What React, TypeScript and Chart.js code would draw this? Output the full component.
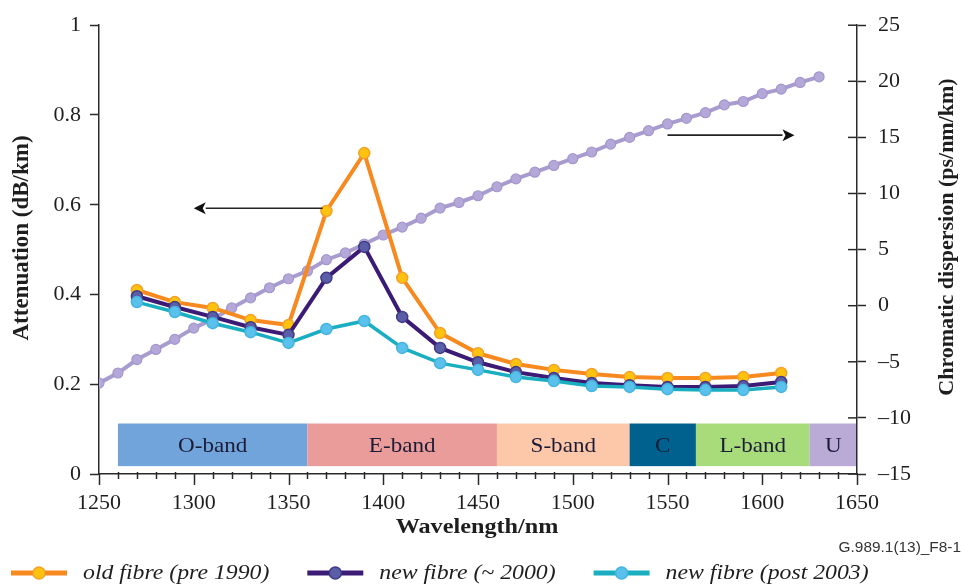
import React, { useEffect, useRef } from 'react';
import { Chart, registerables } from 'chart.js';

Chart.register(...registerables);

// Attenuation samples (dB/km), every 20 nm
const attenuationWavelengths = [1270, 1290, 1310, 1330, 1350, 1370, 1390, 1410, 1430, 1450, 1470, 1490, 1510, 1530, 1550, 1570, 1590, 1610];
const oldFibre = [0.41, 0.383, 0.37, 0.343, 0.332, 0.586, 0.715, 0.437, 0.314, 0.269, 0.245, 0.232, 0.223, 0.216, 0.214, 0.214, 0.216, 0.225];
const newFibre2000 = [0.396, 0.372, 0.35, 0.327, 0.31, 0.437, 0.506, 0.35, 0.281, 0.249, 0.227, 0.214, 0.203, 0.198, 0.194, 0.194, 0.196, 0.205];
const newFibre2003 = [0.383, 0.361, 0.336, 0.316, 0.292, 0.323, 0.341, 0.281, 0.247, 0.232, 0.216, 0.207, 0.196, 0.194, 0.189, 0.187, 0.187, 0.194];

// Chromatic dispersion samples (ps/nm/km), every 10 nm
const dispersionWavelengths = [1250, 1260, 1270, 1280, 1290, 1300, 1310, 1320, 1330, 1340, 1350, 1360, 1370, 1380, 1390, 1400, 1410, 1420, 1430, 1440, 1450, 1460, 1470, 1480, 1490, 1500, 1510, 1520, 1530, 1540, 1550, 1560, 1570, 1580, 1590, 1600, 1610, 1620, 1630];
const dispersion = [-6.9, -6.0, -4.8, -3.9, -3.0, -2.0, -1.2, -0.2, 0.7, 1.6, 2.4, 3.1, 4.1, 4.7, 5.5, 6.3, 7.0, 7.8, 8.7, 9.2, 9.8, 10.6, 11.3, 11.9, 12.5, 13.1, 13.7, 14.4, 15.0, 15.6, 16.2, 16.7, 17.2, 17.9, 18.2, 18.9, 19.3, 19.9, 20.4];

// Transmission bands (nm)
const bandNames = ['O-band', 'E-band', 'S-band', 'C', 'L-band', 'U'];
const bandStarts = [1260, 1360, 1460, 1530, 1565, 1625];
const bandEnds = [1360, 1460, 1530, 1565, 1625, 1675];
const bandColors = ['#70A4DA', '#EA9C9B', '#FDC8AA', '#00618F', '#A8DC7B', '#B9ABD6'];

const seriesNames = ['old fibre (pre 1990)', 'new fibre (~ 2000)', 'new fibre (post 2003)'];

const SERIF = "'Liberation Serif', 'Times New Roman', serif";
const AXIS = '#2a2a2a';

function hText(ctx: CanvasRenderingContext2D, text: string, x: number, y: number, font: string, align: string, color: string, sx = 1.08) {
  ctx.save();
  ctx.font = font;
  ctx.fillStyle = color;
  ctx.textBaseline = 'middle';
  ctx.textAlign = 'left';
  const w = ctx.measureText(text).width * sx;
  const left = align === 'center' ? x - w / 2 : align === 'right' ? x - w : x;
  ctx.translate(left, y);
  ctx.scale(sx, 1);
  ctx.fillText(text, 0, 0);
  ctx.restore();
  return w;
}

function vText(ctx: CanvasRenderingContext2D, text: string, x: number, y: number, font: string, color: string) {
  ctx.save();
  ctx.font = font;
  ctx.fillStyle = color;
  ctx.textBaseline = 'middle';
  ctx.textAlign = 'center';
  ctx.translate(x, y);
  ctx.rotate(-Math.PI / 2);
  ctx.fillText(text, 0, 0);
  ctx.restore();
}

function arrow(ctx: CanvasRenderingContext2D, xTail: number, xTip: number, y: number) {
  const dir = Math.sign(xTip - xTail);
  const head = 12;
  ctx.save();
  ctx.strokeStyle = '#222';
  ctx.fillStyle = '#111';
  ctx.lineWidth = 1.6;
  ctx.beginPath();
  ctx.moveTo(xTail, y);
  ctx.lineTo(xTip - dir * head, y);
  ctx.stroke();
  ctx.beginPath();
  ctx.moveTo(xTip, y);
  ctx.lineTo(xTip - dir * head, y - 6);
  ctx.lineTo(xTip - dir * (head - 3), y);
  ctx.lineTo(xTip - dir * head, y + 6);
  ctx.closePath();
  ctx.fill();
  ctx.restore();
}

const decor = {
  id: 'figureDecor',
  beforeDatasetsDraw(chart: any) {
    const { ctx, chartArea, scales } = chart;
    const x = scales.x;
    const y1 = scales.y1;
    const top = y1.getPixelForValue(-10.5);
    const bottom = y1.getPixelForValue(-14.3);
    ctx.save();
    ctx.beginPath();
    ctx.rect(chartArea.left, chartArea.top, chartArea.right - chartArea.left - 1, chartArea.bottom - chartArea.top);
    ctx.clip();
    bandNames.forEach((name, i) => {
      const l = x.getPixelForValue(bandStarts[i]);
      const r = x.getPixelForValue(bandEnds[i]);
      ctx.fillStyle = bandColors[i];
      ctx.fillRect(l, top, r - l, bottom - top);
    });
    bandNames.forEach((name, i) => {
      const l = x.getPixelForValue(bandStarts[i]);
      const r = Math.min(x.getPixelForValue(bandEnds[i]), chartArea.right);
      hText(ctx, name, (l + r) / 2, (top + bottom) / 2 + 1, `22px ${SERIF}`, 'center', '#1c1c36', 1.05);
    });
    ctx.restore();
  },
  afterDatasetsDraw(chart: any) {
    const { ctx, scales } = chart;
    const x = scales.x;
    // attenuation axis pointer (left) and dispersion axis pointer (right)
    const yl = scales.y.getPixelForValue(0.592);
    arrow(ctx, x.getPixelForValue(1368), x.getPixelForValue(1300), yl);
    const yr = scales.y1.getPixelForValue(15.2);
    arrow(ctx, x.getPixelForValue(1550), x.getPixelForValue(1617), yr);
  },
  afterDraw(chart: any) {
    const { ctx, chartArea, scales } = chart;
    const x = scales.x;
    const y1 = scales.y1;
    ctx.save();
    ctx.strokeStyle = AXIS;
    ctx.lineWidth = 1.5;
    // wavelength ticks: long every 50 nm, short every 10 nm
    x.ticks.forEach((t: any) => {
      const px = Math.round(x.getPixelForValue(t.value)) + 0.5;
      const major = t.value % 50 === 0;
      ctx.beginPath();
      ctx.moveTo(px, chartArea.bottom - (major ? 0 : 2));
      ctx.lineTo(px, chartArea.bottom + (major ? 11 : 5));
      ctx.stroke();
    });
    // inner half of the dispersion ticks
    y1.ticks.forEach((t: any) => {
      const py = y1.getPixelForValue(t.value);
      ctx.beginPath();
      ctx.moveTo(chartArea.right - 9, py);
      ctx.lineTo(chartArea.right, py);
      ctx.stroke();
    });
    ctx.restore();

    vText(ctx, 'Attenuation (dB/km)', 22, 238, `bold 23px ${SERIF}`, '#1e1e1e');
    vText(ctx, 'Chromatic dispersion (ps/nm/km)', 947, 237, `bold 22px ${SERIF}`, '#1e1e1e');
    hText(ctx, 'Wavelength/nm', 477, 527, `bold 22px ${SERIF}`, 'center', '#1e1e1e', 1.1);
    hText(ctx, 'G.989.1(13)_F8-1', 961, 548, "14px 'Liberation Sans', Arial, sans-serif", 'right', '#333', 1.1);

    // legend
    const ly = 573;
    let lx = 11;
    for (let i = 0; i < 3; i++) {
      const ds = chart.data.datasets[i];
      ctx.save();
      ctx.strokeStyle = ds.borderColor;
      ctx.lineWidth = 5;
      ctx.beginPath();
      ctx.moveTo(lx, ly);
      ctx.lineTo(lx + 56, ly);
      ctx.stroke();
      ctx.beginPath();
      ctx.arc(lx + 28, ly, 6, 0, Math.PI * 2);
      ctx.fillStyle = ds.pointBackgroundColor;
      ctx.fill();
      ctx.lineWidth = 1.5;
      ctx.strokeStyle = ds.pointBorderColor;
      ctx.stroke();
      ctx.restore();
      const w = hText(ctx, ds.label, lx + 72, ly, `italic 22px ${SERIF}`, 'left', '#1e1e1e', 1.08);
      lx = lx + 72 + w + 38;
    }
  },
};

export default function App() {
  const canvasRef = useRef<HTMLCanvasElement | null>(null);

  useEffect(() => {
    const canvas = canvasRef.current;
    if (!canvas) return;
    const toXY = (xs: number[], ys: number[]) => xs.map((v, i) => ({ x: v, y: ys[i] }));
    const chart = new Chart(canvas, {
      type: 'line',
      data: {
        datasets: [
          {
            label: seriesNames[0],
            data: toXY(attenuationWavelengths, oldFibre),
            yAxisID: 'y',
            borderColor: '#F7891F',
            borderWidth: 4,
            pointBackgroundColor: '#FFC20F',
            pointBorderColor: '#F5A12A',
            pointBorderWidth: 1.5,
            pointRadius: 5.5,
            order: 3,
          },
          {
            label: seriesNames[1],
            data: toXY(attenuationWavelengths, newFibre2000),
            yAxisID: 'y',
            borderColor: '#3B1B76',
            borderWidth: 4,
            pointBackgroundColor: '#5A5EA8',
            pointBorderColor: '#403A86',
            pointBorderWidth: 1.5,
            pointRadius: 5.5,
            order: 2,
          },
          {
            label: seriesNames[2],
            data: toXY(attenuationWavelengths, newFibre2003),
            yAxisID: 'y',
            borderColor: '#19AFC0',
            borderWidth: 3.5,
            pointBackgroundColor: '#5AC0EC',
            pointBorderColor: '#45B5DF',
            pointBorderWidth: 1.5,
            pointRadius: 5.5,
            order: 1,
          },
          {
            label: 'Chromatic dispersion',
            data: toXY(dispersionWavelengths, dispersion),
            yAxisID: 'y1',
            borderColor: '#A89CCF',
            borderWidth: 4,
            pointBackgroundColor: '#B4A8D9',
            pointBorderColor: '#A496CC',
            pointBorderWidth: 1.2,
            pointRadius: 5,
            order: 4,
          },
        ],
      },
      options: {
        responsive: false,
        animation: false,
        events: [],
        layout: { padding: { top: 25, left: 0, right: 0, bottom: 0 } },
        plugins: { legend: { display: false }, tooltip: { enabled: false }, title: { display: false } },
        scales: {
          x: {
            type: 'linear',
            min: 1250,
            max: 1650,
            grid: { display: false },
            border: { display: true, color: AXIS, width: 1.5 },
            ticks: {
              stepSize: 10,
              autoSkip: false,
              maxRotation: 0,
              padding: 8,
              color: '#1e1e1e',
              font: { family: SERIF, size: 22 },
              callback: (v: any) => (Number(v) % 50 === 0 ? String(v) : ''),
            },
            afterFit: (s: any) => { s.height = 111; },
          },
          y: {
            position: 'left',
            min: 0,
            max: 1,
            grid: { display: true, drawOnChartArea: false, drawTicks: true, tickLength: 9, tickColor: AXIS, tickWidth: 1.5, color: AXIS },
            border: { display: true, color: AXIS, width: 1.5 },
            ticks: {
              stepSize: 0.2,
              padding: 9,
              color: '#1e1e1e',
              font: { family: SERIF, size: 22 },
              callback: (v: any) => String(Math.round(Number(v) * 10) / 10),
            },
            afterFit: (s: any) => { s.width = 99; },
          },
          y1: {
            position: 'right',
            min: -15,
            max: 25,
            grid: { display: true, drawOnChartArea: false, drawTicks: true, tickLength: 9, tickColor: AXIS, tickWidth: 1.5, color: AXIS },
            border: { display: true, color: AXIS, width: 1.5 },
            ticks: {
              stepSize: 5,
              padding: 12,
              color: '#1e1e1e',
              font: { family: SERIF, size: 22 },
              callback: (v: any) => (Number(v) < 0 ? '\u2013' + Math.abs(Number(v)) : String(v)),
            },
            afterFit: (s: any) => { s.width = 106; },
          },
        },
      },
      plugins: [decor],
    } as any);
    return () => chart.destroy();
  }, []);

  return (
    <div style={{ position: 'absolute', left: 0, top: 0, width: 963, height: 585, background: '#fff' }}>
      <canvas ref={canvasRef} width={963} height={585} style={{ display: 'block' }} />
    </div>
  );
}
